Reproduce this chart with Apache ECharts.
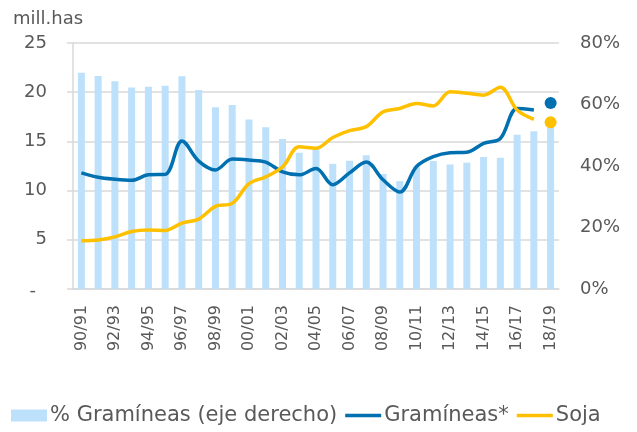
<!DOCTYPE html>
<html><head><meta charset="utf-8">
<script src="https://cdn.jsdelivr.net/npm/echarts@6/dist/echarts.min.js"></script>
<style>html,body{margin:0;padding:0;background:#fff}#c{width:637px;height:432px}</style>
</head><body><div id="c"></div>
<script>
const categories = ['90/91','91/92','92/93','93/94','94/95','95/96','96/97','97/98','98/99','99/00','00/01','01/02','02/03','03/04','04/05','05/06','06/07','07/08','08/09','09/10','10/11','11/12','12/13','13/14','14/15','15/16','16/17','17/18','18/19'];
const pctGramineas = [70.3,69.3,67.6,65.5,65.8,66.1,69.2,64.7,59.1,59.8,55.1,52.6,48.8,44.3,45.7,40.7,41.7,43.5,37.4,35.1,39.6,41.6,40.5,41.1,42.9,42.7,50.2,51.3,52.8];
const gramineas = [11.8,11.35,11.15,11.05,11.6,11.65,15.05,13.0,12.1,13.2,13.1,12.9,11.9,11.6,12.25,10.6,11.8,12.9,11.1,9.85,12.45,13.45,13.85,13.9,14.8,15.3,18.35,18.2,null];
const soja = [4.9,4.98,5.3,5.85,6.0,5.95,6.7,7.1,8.4,8.7,10.7,11.4,12.4,14.45,14.3,15.4,16.1,16.5,18.0,18.35,18.85,18.6,20.05,19.9,19.7,20.5,18.2,17.25,null];
const gramineasProy = [null,null,null,null,null,null,null,null,null,null,null,null,null,null,null,null,null,null,null,null,null,null,null,null,null,null,null,null,18.9];
const sojaProy = [null,null,null,null,null,null,null,null,null,null,null,null,null,null,null,null,null,null,null,null,null,null,null,null,null,null,null,null,16.95];
const leftTicks = {0:'{d|-}',5:'5',10:'10',15:'15',20:'20',25:'25'};

const FONT = 'DejaVu Sans';
const TXT = '#595959';
const BLUE = '#0070b0';
const YELLOW = '#ffc000';
const lineIcon = 'path://M0,0L36,0L36,0.01L0,0.01Z M0,4.25L36,4.25L36,7.75L0,7.75Z M0,11.99L36,11.99L36,12L0,12Z';
const chart = echarts.init(document.getElementById('c'), null, {renderer:'canvas'});
chart.setOption({
  animation:false,
  textStyle:{fontFamily:FONT,color:TXT},
  grid:{left:73,right:78,top:43,bottom:143},
  title:{text:'mill.has',left:8,top:5,textStyle:{fontFamily:FONT,fontSize:18,fontWeight:'normal',color:TXT}},
  legend:{
    top:405,left:11,itemGap:8,itemWidth:36,itemHeight:12,padding:0,
    textStyle:{fontFamily:FONT,fontSize:21,color:TXT,padding:[0,0,0,-2]},
    data:[{name:'% Gramíneas (eje derecho)',icon:'rect'},{name:'Gramíneas*',icon:lineIcon},{name:'Soja',icon:lineIcon}]
  },
  xAxis:{type:'category',data:categories,boundaryGap:true,
    axisLine:{lineStyle:{color:'#d9d9d9',width:1.5}},axisTick:{show:false},
    axisLabel:{rotate:90,interval:1,fontSize:16,color:TXT,fontFamily:FONT,margin:16}},
  yAxis:[
    {type:'value',min:0,max:25,interval:5,
     axisLine:{show:true,lineStyle:{color:'#d9d9d9',width:1.5}},
     axisTick:{show:true,length:6,lineStyle:{color:'#d9d9d9',width:1.5}},
     splitLine:{lineStyle:{color:'#d9d9d9',width:1.5}},
     axisLabel:{fontSize:18,color:TXT,fontFamily:FONT,margin:26,align:'right',formatter:v=>leftTicks[v],
       rich:{d:{fontSize:18,fontFamily:FONT,color:TXT,padding:[4,11,0,0]}}}},
    {type:'value',min:0,max:80,interval:20,
     axisLine:{show:false},axisTick:{show:false},splitLine:{show:false},
     axisLabel:{fontSize:18,color:TXT,fontFamily:FONT,margin:21,formatter:v=>v+'%'}}
  ],
  series:[
    {name:'% Gramíneas (eje derecho)',type:'bar',yAxisIndex:1,data:pctGramineas,barWidth:7,itemStyle:{color:'#bde0fb'}},
    {name:'Gramíneas*',type:'line',yAxisIndex:0,data:gramineas,smooth:0.35,symbol:'none',lineStyle:{color:BLUE,width:3.5},itemStyle:{color:BLUE},z:3},
    {name:'Soja',type:'line',yAxisIndex:0,data:soja,smooth:0.35,symbol:'none',lineStyle:{color:YELLOW,width:3.5},itemStyle:{color:YELLOW},z:3},
    {name:'Gramíneas proy',type:'scatter',yAxisIndex:0,data:gramineasProy,symbolSize:12,itemStyle:{color:BLUE,opacity:1},z:4},
    {name:'Soja proy',type:'scatter',yAxisIndex:0,data:sojaProy,symbolSize:12,itemStyle:{color:YELLOW,opacity:1},z:4}
  ]
});
</script></body></html>
